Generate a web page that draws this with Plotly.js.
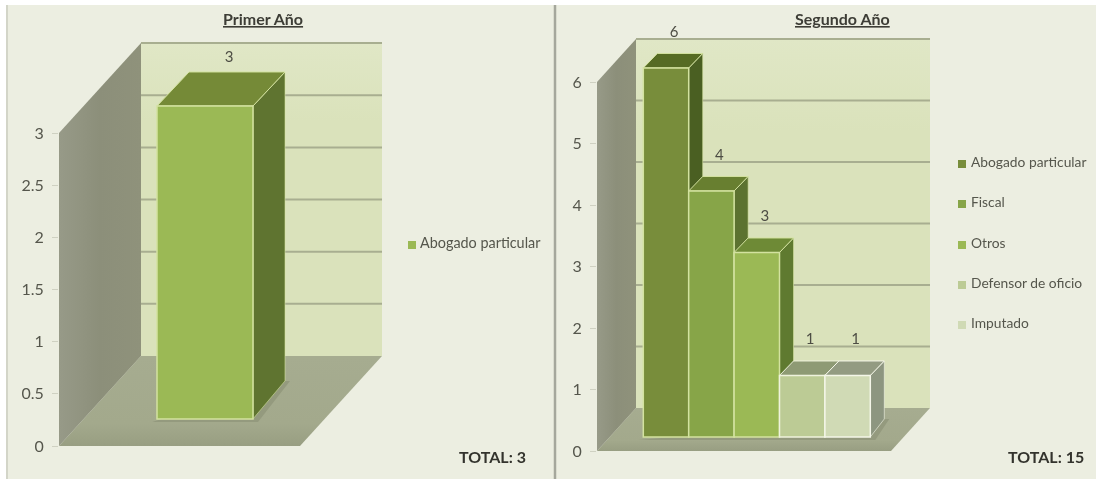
<!DOCTYPE html>
<html><head><meta charset="utf-8">
<script src="https://cdn.plot.ly/plotly-3.0.1.min.js"></script>
<style>html,body{margin:0;padding:0;background:#fff}#c{width:1096px;height:479px;filter:blur(0.5px)}</style>
</head><body><div id="c"></div>
<script>
// ---- data ----
var firstCategories = ["Abogado particular"];
var firstValues = [3];
var firstTicks = [0, 0.5, 1, 1.5, 2, 2.5, 3];
var firstTickLabels = ["0", "0.5", "1", "1.5", "2", "2.5", "3"];
var secondCategories = ["Abogado particular", "Fiscal", "Otros", "Defensor de oficio", "Imputado"];
var secondValues = [6, 4, 3, 1, 1];
var secondTicks = [0, 1, 2, 3, 4, 5, 6];
var secondTickLabels = ["0", "1", "2", "3", "4", "5", "6"];
var firstTitle = "Primer Año", secondTitle = "Segundo Año";
var firstTotal = "TOTAL: 3", secondTotal = "TOTAL: 15";

// ---- styles ----
var firstStyle = {front:["#9bb955"], top:["#758a37"], side:["#5f7430"], edge:["#d3e2a0"]};
var secondStyle = {
  front:["#788d3b","#87a548","#9bb955","#bccb95","#d0dab5"],
  top:["#566b24","#687f30","#6e8a36","#8e9a74","#939b82"],
  side:["#4a5f22","#5c7230","#5f7a30","#8a9470","#8d9680"],
  edge:["#d3e2a0","#d3e2a0","#d3e2a0","#eef2dc","#f4f6e8"]
};
var FONT = 'Lato,"Open Sans",sans-serif';
var W = 1096, H = 479;

// ---- chart geometry ----
var g1 = {cat:firstCategories, val:firstValues, st:firstStyle, ticks:firstTicks, labels:firstTickLabels,
  left:59, right:548, zeroPx:446, topPx:20, cx0:205, unit:96, scale:104.3, base:0.26,
  wallDx:82, wallDy:90, wallW:241, dx:32, dy:34, dyBase:38, labDx:24, labDy:48,
  legX:412, legTextX:420, legSize:14.4, legY:[245]};
var g2 = {cat:secondCategories, val:secondValues, st:secondStyle, ticks:secondTicks, labels:secondTickLabels,
  left:597, right:1094, zeroPx:451, topPx:20, cx0:666, unit:45.4, scale:61.5, base:0.228,
  wallDx:39, wallDy:43, wallW:294, dx:14, dy:14.5, dyBase:18, labDx:8, labDy:35,
  legX:962, legTextX:971, legSize:13.8, legY:[164,204,245,285,325]};

var traces = [];
function poly(g, xs, ys, color, lineColor, lw, grad){
  var t = {type:"scatter", mode:"lines", x:xs, y:ys, fill:"toself", fillcolor:color,
    line:{color:lineColor||color, width:lw||0}, hoverinfo:"skip", showlegend:false,
    xaxis:g.xa, yaxis:g.ya};
  if(grad) t.fillgradient = grad;
  traces.push(t);
}
function build(g, a, b){
  g.xa = "x"+a; g.ya = "y"+a; g.xb = "x"+b; g.yb = "y"+b;
  var X = function(px){return (px-g.cx0)/g.unit;};
  var Y = function(dPx){return dPx/g.scale;};
  var wx0 = X(g.left), wx1 = X(g.left+g.wallDx), wx2 = X(g.left+g.wallDx+g.wallW), wx3 = X(g.left+g.wallW);
  var wd = Y(g.wallDy), tTop = g.ticks[g.ticks.length-1], wallTop = tTop+wd;
  // back wall
  poly(g,[wx1,wx2,wx2,wx1,wx1],[wd,wd,wallTop,wallTop,wd],"#dbe3bd",null,0,
    {type:"vertical",colorscale:[[0,"#dae2bb"],[0.75,"#dae2bb"],[1,"#e0e7c6"]]});
  // gridlines on the back wall
  var gx=[],gy=[];
  g.ticks.slice(1).forEach(function(v){gx.push(wx1,wx2,null);gy.push(v+wd,v+wd,null);});
  traces.push({type:"scatter",mode:"lines",x:gx,y:gy,line:{color:"#a8ae90",width:2},hoverinfo:"skip",showlegend:false,xaxis:g.xa,yaxis:g.ya});
  // floor
  poly(g,[wx0,wx1,wx2,wx3,wx0],[0,wd,wd,0,0],"#a5ab8e",null,0,
    {type:"vertical",colorscale:[[0,"#989e82"],[0.25,"#a3a98c"],[1,"#a6ac90"]]});
  // side wall
  poly(g,[wx0,wx1,wx1,wx0,wx0],[0,wd,wallTop,tTop,0],"#8c8f7a",null,0,
    {type:"horizontal",colorscale:[[0,"#979a88"],[0.5,"#8c8f7a"],[1,"#8f927b"]]});
  // shadow on the floor
  var n=g.val.length;
  poly(g,[X(g.cx0-g.unit/2-5),X(g.cx0+(n-0.5)*g.unit+5),X(g.cx0+(n-0.5)*g.unit+g.dx+5),X(g.cx0+(n-0.5)*g.unit+g.dx),X(g.cx0-g.unit/2-5)],
    [g.base-Y(3),g.base-Y(3),g.base+Y(g.dyBase),g.base+Y(g.dyBase),g.base-Y(3)],"#949a7e");
  // side + top faces, in painting order
  var ux=g.dx/g.unit, uy=Y(g.dy), ub=Y(g.dyBase);
  g.val.forEach(function(v,i){
    var r=i+0.5,l=i-0.5,t=g.base+v;
    poly(g,[r,r+ux,r+ux,r,r],[t,t+uy,g.base+ub,g.base,t],g.st.side[i],g.st.edge[i],0.6);
    poly(g,[l,l+ux,r+ux,r,l],[t,t+uy,t+uy,t,t],g.st.top[i],g.st.edge[i],1);
  });
  // front faces, on an overlay subplot so they cover neighbouring side faces
  traces.push({type:"bar",x:g.val.map(function(v,i){return i;}),y:g.val,base:g.val.map(function(){return g.base;}),width:1,
    text:g.cat,textposition:"none",hoverinfo:"x+y",showlegend:false,
    marker:{color:g.st.front,line:{color:g.st.edge,width:1.5}},xaxis:g.xb,yaxis:g.yb});
  // value labels
  traces.push({type:"scatter",mode:"text",x:g.val.map(function(v,i){return i+g.labDx/g.unit;}),
    y:g.val.map(function(v){return g.base+v+Y(g.labDy);}),text:g.val.map(String),textposition:"middle center",
    textfont:{family:FONT,size:15,color:"#4d4d44"},cliponaxis:false,hoverinfo:"skip",showlegend:false,xaxis:g.xb,yaxis:g.yb});
  // legend
  traces.push({type:"scatter",mode:"markers",x:g.legY.map(function(){return X(g.legX);}),
    y:g.legY.map(function(p){return (g.zeroPx-p)/g.scale;}),
    marker:{symbol:"square",size:8,color:g.st.front,line:{width:0}},
    cliponaxis:false,hoverinfo:"skip",showlegend:false,xaxis:g.xb,yaxis:g.yb});
  traces.push({type:"scatter",mode:"text",x:g.legY.map(function(){return X(g.legTextX);}),
    y:g.legY.map(function(p){return (g.zeroPx-p+0.5)/g.scale;}),text:g.cat,textposition:"middle right",
    textfont:{family:FONT,size:g.legSize,color:"#55564c"},
    cliponaxis:false,hoverinfo:"skip",showlegend:false,xaxis:g.xb,yaxis:g.yb});
}
build(g1,"","2"); build(g2,"3","4");

function axes(g, lay, a, b){
  var dom=[g.left/W,g.right/W], ydom=[(H-g.zeroPx)/H,(H-g.topPx)/H];
  var xr=[(g.left-g.cx0)/g.unit,(g.right-g.cx0)/g.unit], yr=[0,(g.zeroPx-g.topPx)/g.scale];
  lay["xaxis"+a]={domain:dom,range:xr,visible:false,fixedrange:true,anchor:"y"+a};
  lay["yaxis"+a]={domain:ydom,range:yr,anchor:"x"+a,fixedrange:true,showgrid:false,zeroline:false,showline:false,
    tickmode:"array",tickvals:g.ticks,ticktext:g.labels,ticks:"outside",ticklen:6,tickcolor:"#cfd1c2",tickwidth:1,
    ticklabelstandoff:5,tickfont:{family:FONT,size:16,color:"#55564c"}};
  lay["xaxis"+b]={domain:dom,range:xr,visible:false,fixedrange:true,anchor:"y"+b,overlaying:a===""?"x":"x"+a};
  lay["yaxis"+b]={domain:ydom,range:yr,visible:false,fixedrange:true,anchor:"x"+b,overlaying:a===""?"y":"y"+a};
}
var layout={width:W,height:H,margin:{l:0,r:0,t:0,b:0,pad:0},autosize:false,paper_bgcolor:"#ffffff",plot_bgcolor:"rgba(0,0,0,0)",
  showlegend:false,barmode:"overlay",
  shapes:[
    {type:"rect",xref:"paper",yref:"paper",x0:6/W,x1:1,y0:0,y1:1-5/H,fillcolor:"#eceee1",line:{width:0},layer:"below"},
    {type:"line",xref:"paper",yref:"paper",x0:7/W,x1:7/W,y0:0,y1:1-5/H,line:{color:"#d3d5c8",width:2},layer:"below"},
    {type:"line",xref:"paper",yref:"paper",x0:555/W,x1:555/W,y0:0,y1:1-5/H,line:{color:"#a5a79c",width:2.5},layer:"below"}
  ],
  annotations:[
    {text:"<b>"+firstTitle+"</b>",xref:"paper",yref:"paper",x:263/W,y:1-18/H,showarrow:false,xanchor:"center",yanchor:"middle",font:{family:FONT,size:16,color:"#3d3d36",lineposition:"under"}},
    {text:"<b>"+secondTitle+"</b>",xref:"paper",yref:"paper",x:842/W,y:1-18/H,showarrow:false,xanchor:"center",yanchor:"middle",font:{family:FONT,size:16,color:"#3d3d36",lineposition:"under"}},
    {text:"<b>"+firstTotal+"</b>",xref:"paper",yref:"paper",x:528/W,y:1-456/H,showarrow:false,xanchor:"right",yanchor:"middle",font:{family:FONT,size:16,color:"#33332d"}},
    {text:"<b>"+secondTotal+"</b>",xref:"paper",yref:"paper",x:1086/W,y:1-456/H,showarrow:false,xanchor:"right",yanchor:"middle",font:{family:FONT,size:16,color:"#33332d"}}
  ]};
axes(g1,layout,"","2");
axes(g2,layout,"3","4");
Plotly.newPlot("c",traces,layout,{displayModeBar:false,staticPlot:true});
</script></body></html>
